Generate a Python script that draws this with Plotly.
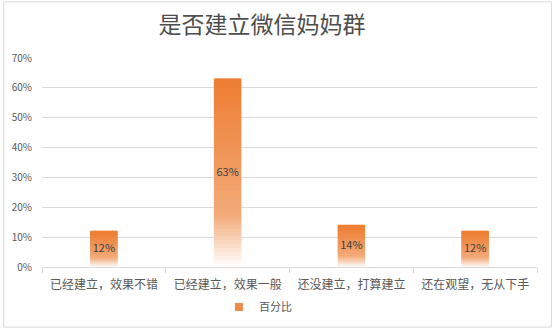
import plotly.graph_objects as go

categories = ["已经建立，效果不错", "已经建立，效果一般", "还没建立，打算建立", "还在观望，无从下手"]
values = [0.12, 0.63, 0.14, 0.12]
labels = ["12%", "63%", "14%", "12%"]
series_name = "百分比"
title_text = "是否建立微信妈妈群"

W, H = 552, 334
ML, MR, MT, MB = 39, 15, 58, 62
PW, PH = W - ML - MR, H - MT - MB

stops = [(0.0, (255, 255, 255)), (0.28, (243, 170, 121)), (1.0, (237, 125, 49))]


def grad(t):
    for (t0, c0), (t1, c1) in zip(stops[:-1], stops[1:]):
        if t <= t1:
            f = (t - t0) / (t1 - t0)
            return "rgb(%d,%d,%d)" % tuple(round(a + (b - a) * f) for a, b in zip(c0, c1))
    return "rgb(%d,%d,%d)" % stops[-1][1]


N = 48
fig = go.Figure()
for i in range(N):
    col = grad((i + 0.5) / N)
    fig.add_trace(go.Bar(
        x=categories,
        y=[v / N for v in values],
        base=[v * i / N for v in values],
        width=0.215,
        marker=dict(color=col, line=dict(width=1, color=col)),
        showlegend=False,
        hoverinfo="skip",
    ))

fig.add_trace(go.Scatter(
    x=categories,
    y=[v / 2 for v in values],
    text=labels,
    mode="text",
    textposition="middle center",
    textfont=dict(family="Noto Sans CJK SC", size=11, color="#404040"),
    showlegend=False,
    hoverinfo="skip",
))

fig.add_trace(go.Scatter(
    x=[None], y=[None], mode="markers", name=series_name,
    marker=dict(symbol="square", size=8, color="#F08A4B"),
))


def px_x(p):
    return (p - ML) / PW


def px_y(p):
    return (H - MB - p) / PH


fig.add_shape(type="rect", xref="paper", yref="paper",
              x0=px_x(0.5), x1=px_x(W - 0.5), y0=px_y(H - 0.5), y1=px_y(0.5),
              line=dict(color="#D9D9D9", width=1), fillcolor="rgba(0,0,0,0)", layer="below")

fig.update_layout(
    width=W, height=H,
    margin=dict(l=ML, r=MR, t=MT, b=MB),
    paper_bgcolor="white", plot_bgcolor="white",
    barmode="overlay",
    font=dict(family="Noto Sans CJK SC", color="#595959"),
    title=dict(text=title_text, xref="container", yref="container",
               x=262 / W, xanchor="center", y=1 - 25 / H, yanchor="middle",
               font=dict(family="Noto Sans CJK SC", size=23, color="#4D4D4D")),
    xaxis=dict(showline=True, linecolor="#D9D9D9", linewidth=1,
               ticks="outside", tickson="boundaries", ticklen=5, tickcolor="#D9D9D9",
               showgrid=False, tickfont=dict(size=12, color="#595959"),
               ticklabelstandoff=7, fixedrange=True),
    yaxis=dict(range=[0, 0.7], dtick=0.1, tickformat=".0%", showgrid=True,
               gridcolor="#D9D9D9", gridwidth=1, zeroline=False, showline=False,
               tickfont=dict(size=10, color="#595959"), ticklabelstandoff=9,
               fixedrange=True),
    legend=dict(orientation="h", x=px_x(217), xanchor="left", y=px_y(313), yanchor="middle",
                font=dict(size=11, color="#595959"), bgcolor="rgba(0,0,0,0)"),
    showlegend=True,
)

fig.write_html("out.html", config={"displayModeBar": False})
